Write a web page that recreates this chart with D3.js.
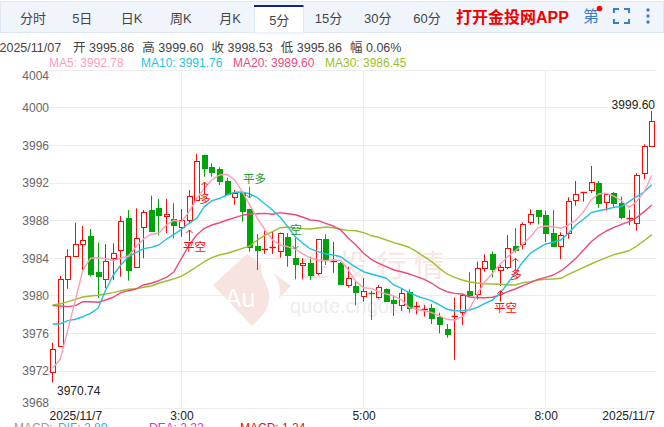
<!DOCTYPE html>
<html><head><meta charset="utf-8">
<script src="https://cdn.jsdelivr.net/npm/d3@7/dist/d3.min.js"></script>
<style>
html,body{margin:0;padding:0;background:#fff;overflow:hidden}
svg{display:block}
text{font-family:"Liberation Sans","Noto Sans CJK SC",sans-serif}
</style></head><body><svg id="c" width="664" height="427"></svg>
<script>
const tabs=["分时","5日","日K","周K","月K","5分","15分","30分","60分"];
const activeTab="5分";
const headerDate="2025/11/07";
const headerItems=["开 3995.86","高 3999.60","收 3998.53","低 3995.86","幅 0.06%"];
const maLabels=["MA5: 3992.78","MA10: 3991.76","MA20: 3989.60","MA30: 3986.45"];
const macdLabels=["MACD:","DIF: 2.89","DEA: 2.22","MACD: 1.24"];
const yTicks=[3968,3972,3976,3980,3984,3988,3992,3996,4000,4004];
const xTickLabels={0:"2025/11/7",17:"3:00",41:"5:00",65:"8:00",79:"2025/11/7"};
const opens=[3971.81,3974.53,3981.7,3984.2,3985.43,3986.3,3982.5,3981.77,3983.9,3984.85,3988.2,3982.95,3987.23,3989.07,3989.25,3988.4,3988.09,3987.23,3988.0,3990.1,3994.93,3993.65,3993.44,3992.16,3990.38,3990.85,3989.18,3985.24,3984.9,3985.0,3984.64,3986.17,3983.97,3983.19,3983.4,3982.34,3985.96,3983.65,3983.4,3981.06,3981.0,3979.85,3980.28,3979.85,3980.64,3979.5,3978.97,3980.38,3978.78,3978.51,3978.65,3977.66,3976.41,3977.72,3978.2,3980.46,3980.06,3982.83,3984.36,3982.66,3983.09,3985.24,3985.38,3987.87,3989.07,3988.51,3986.6,3985.28,3986.6,3990.1,3990.91,3991.17,3991.91,3989.85,3990.85,3989.79,3988.19,3987.77,3992.98,3995.86];
const highs=[3974.96,3982.05,3984.9,3987.72,3987.37,3987.05,3985.6,3985.43,3985.53,3988.44,3989.07,3989.25,3989.07,3990.6,3990.24,3990.27,3989.79,3989.18,3991.2,3995.03,3994.96,3994.04,3993.62,3992.51,3991.2,3991.05,3989.2,3986.52,3986.87,3986.77,3986.66,3986.6,3985.17,3983.94,3984.1,3985.96,3986.49,3985.67,3983.55,3983.04,3981.63,3981.81,3980.49,3981.1,3980.74,3979.93,3980.74,3980.64,3979.32,3978.97,3979.07,3978.15,3976.95,3979.74,3980.14,3982.45,3983.57,3984.36,3984.68,3983.22,3986.41,3987.13,3987.77,3989.15,3989.07,3989.0,3989.07,3986.7,3990.43,3992.16,3990.99,3993.76,3992.16,3990.85,3990.99,3990.49,3989.07,3992.98,3996.06,3999.60];
const lows=[3970.74,3974.53,3980.7,3984.1,3982.4,3982.0,3979.7,3980.75,3981.63,3981.98,3981.55,3982.95,3983.94,3986.84,3986.38,3986.6,3986.06,3986.23,3987.6,3990.1,3992.62,3992.62,3991.73,3990.81,3989.64,3987.83,3984.64,3982.69,3984.4,3984.4,3984.0,3983.04,3981.7,3981.7,3981.63,3982.13,3983.22,3982.4,3981.2,3980.81,3978.93,3979.32,3977.37,3979.64,3979.32,3977.8,3978.36,3978.15,3977.98,3977.73,3976.95,3975.96,3975.49,3973.12,3976.84,3979.85,3979.57,3982.51,3981.9,3980.99,3982.77,3984.53,3984.93,3987.51,3987.55,3985.67,3985.17,3983.83,3986.02,3989.53,3989.96,3990.88,3989.32,3989.0,3989.36,3988.09,3987.45,3986.87,3992.37,3995.86];
const closes=[3974.26,3981.7,3984.18,3985.43,3985.85,3982.3,3982.05,3983.65,3984.47,3987.9,3982.7,3986.06,3988.83,3986.84,3988.47,3988.62,3987.45,3988.0,3990.56,3994.26,3993.54,3993.15,3992.19,3990.81,3990.85,3988.9,3985.17,3984.85,3984.96,3985.1,3986.6,3984.29,3983.33,3983.4,3982.08,3985.96,3983.76,3983.7,3981.2,3981.81,3980.35,3980.43,3980.25,3980.92,3979.32,3979.21,3980.2,3978.72,3978.86,3978.54,3977.62,3976.95,3975.88,3977.8,3980.0,3980.0,3982.87,3983.62,3982.8,3982.98,3985.06,3984.82,3987.55,3988.68,3988.47,3986.55,3985.24,3986.45,3990.0,3990.74,3990.99,3992.02,3989.74,3990.74,3989.82,3988.26,3988.22,3992.83,3995.85,3998.53];
const ma5=[3972.23,3973.19,3976.3,3979.5,3982.7,3983.94,3984.0,3983.9,3983.7,3983.94,3984.18,3985.17,3986.0,3986.5,3986.6,3987.48,3987.98,3987.83,3988.9,3990.3,3991.38,3992.27,3992.8,3992.87,3992.27,3991.02,3989.6,3988.19,3986.95,3985.88,3985.35,3985.17,3984.9,3984.4,3983.94,3983.76,3983.68,3983.79,3983.68,3982.69,3981.45,3980.81,3980.74,3980.38,3980.14,3979.93,3979.5,3978.72,3978.51,3978.36,3978.15,3977.8,3977.45,3977.37,3977.72,3978.62,3980.14,3981.45,3982.34,3983.33,3984.1,3984.74,3985.46,3986.23,3987.2,3987.37,3987.3,3987.13,3987.48,3988.0,3988.9,3990.14,3990.78,3990.85,3990.56,3990.06,3989.36,3989.96,3991.02,3992.78];
const ma10=[3976.95,3976.95,3977.3,3977.45,3977.72,3978.08,3978.62,3980.56,3982.16,3983.22,3984.1,3984.53,3984.96,3985.1,3985.35,3985.96,3986.49,3987.02,3987.66,3988.19,3989.43,3990.06,3990.32,3990.67,3990.96,3990.99,3990.78,3990.38,3989.71,3989.07,3988.3,3987.3,3986.23,3985.53,3984.93,3984.64,3984.4,3984.29,3984.1,3983.5,3982.98,3982.51,3982.27,3982.05,3981.81,3981.1,3980.74,3980.28,3979.93,3979.68,3979.4,3978.97,3978.51,3978.36,3978.36,3978.44,3978.72,3979.15,3979.5,3980.21,3981.28,3982.41,3983.57,3984.47,3985.0,3985.46,3985.64,3985.88,3986.6,3987.48,3988.09,3988.79,3989.0,3989.15,3989.36,3989.43,3989.96,3990.49,3991.02,3991.76];
const ma20=[3978.9,3978.86,3978.79,3978.9,3979.32,3979.32,3979.26,3979.5,3979.79,3980.28,3980.49,3980.67,3981.1,3981.28,3981.55,3981.9,3982.5,3983.94,3985.35,3986.41,3987.13,3987.48,3987.72,3988.01,3988.26,3988.51,3988.65,3988.68,3988.72,3988.62,3988.79,3988.68,3988.57,3988.3,3988.01,3987.94,3987.66,3987.37,3986.95,3986.06,3985.35,3984.47,3983.83,3983.4,3983.04,3982.69,3982.51,3982.27,3981.98,3981.7,3981.28,3980.74,3980.38,3980.21,3980.14,3979.82,3979.74,3979.74,3979.79,3980.03,3980.38,3980.67,3981.02,3981.34,3981.7,3981.91,3982.16,3982.59,3983.22,3983.94,3984.82,3985.7,3986.34,3986.84,3987.23,3987.55,3987.83,3988.26,3988.9,3989.60];
const ma30=[3978.97,3979.07,3979.32,3979.57,3979.82,3979.93,3980.0,3980.14,3980.28,3980.49,3980.64,3980.7,3980.85,3980.99,3981.28,3981.52,3981.74,3982.05,3982.51,3983.04,3983.57,3984.0,3984.29,3984.47,3984.71,3985.0,3985.24,3985.88,3986.41,3986.77,3987.19,3987.27,3987.13,3987.09,3987.05,3987.16,3987.27,3987.18,3987.02,3986.91,3986.87,3986.66,3986.34,3986.17,3985.88,3985.6,3985.38,3985.11,3984.64,3984.11,3983.57,3982.87,3982.27,3981.91,3981.63,3981.41,3981.31,3981.23,3981.2,3981.17,3981.1,3981.1,3981.34,3981.45,3981.63,3981.7,3981.74,3981.81,3982.23,3982.59,3982.98,3983.33,3983.68,3984.0,3984.32,3984.53,3984.74,3985.24,3985.81,3986.45];
const signalIdx=[18,20,26,32,59,61];
const signalText=["平空","多","平多","空","平空","多"];
const signalDir=["up","up","down","down","up","up"];
const signalPrice=[3986.95,3992.05,3990.35,3984.93,3980.49,3983.94];
const maxLabel="3999.60", minLabel="3970.74";
const wmTitle="金投行情", wmUrl="quote.cngold.org", wmLogo="Au";

const RED="#fb0a0a",GREEN="#00a30a",MACOL=["#ff9db9","#1fc3e0","#f0487c","#9cbf2b"];
const svg=d3.select("#c");
const n=opens.length;
const x=d3.scaleBand().domain(d3.range(n)).range([48.8,655.6]);
const cx=i=>Math.round(x(i)+x.bandwidth()/2-0.5)+0.5;
const y=d3.scaleLinear().domain([3968,4004]).range([408.1,69.7]);

// tab bar
svg.append("rect").attr("x",0.5).attr("y",1.5).attr("width",663).attr("height",31).attr("fill","#f0f5fc").attr("stroke","#dfe7f4");
const tabX=d3.scalePoint().domain(tabs).range([33,427]);
svg.append("rect").attr("x",254.5).attr("y",6).attr("width",49).attr("height",27).attr("fill","#fff").attr("stroke","#dfe7f4");
svg.append("rect").attr("x",254).attr("y",5).attr("width",49.5).attr("height",2).attr("fill","#12287c");
svg.selectAll(".tab").data(tabs).join("text").attr("class","tab").attr("x",d=>tabX(d)).attr("y",d=>d===activeTab?20:18.5)
 .attr("dy","0.36em").attr("text-anchor","middle").attr("font-size",13).attr("fill","#444").text(d=>d);
svg.append("text").attr("x",456).attr("y",17.5).attr("dy","0.36em").attr("font-size",16).attr("font-weight","bold").attr("fill","#f40000").text("打开金投网APP");
svg.append("text").attr("x",583).attr("y",16.5).attr("dy","0.36em").attr("font-size",16).attr("fill","#3d7cc9").text("第");
svg.append("circle").attr("cx",599.5).attr("cy",8.5).attr("r",2.8).attr("fill","#f00");
svg.append("path").attr("fill","none").attr("stroke","#3d7cc9").attr("stroke-width",2)
 .attr("d","M614,13V9H619M624,9H629V13M629,19V23H624M619,23H614V19");
svg.selectAll(".dot").data([10,16,22]).join("circle").attr("class","dot").attr("cx",648).attr("cy",d=>d).attr("r",1.7).attr("fill","#3d7cc9");

// header rows
const hCol="#444";
svg.append("text").attr("x",-0.5).attr("y",47.5).attr("dy","0.36em").attr("font-size",12.5).attr("fill",hCol).text(headerDate);
const hX=d3.scalePoint().domain(headerItems).range([73,350]);
svg.selectAll(".hi").data(headerItems).join("text").attr("class","hi").attr("x",d=>hX(d)).attr("y",47.5).attr("dy","0.36em").attr("font-size",12.5).attr("fill",hCol).text(d=>d);
const mX=d3.scalePoint().domain(maLabels).range([49,325]);
svg.selectAll(".ml").data(maLabels).join("text").attr("class","ml").attr("x",d=>mX(d)).attr("y",62.5).attr("dy","0.36em").attr("font-size",12).attr("fill",(d,i)=>MACOL[i]).text(d=>d);

// grid
const grid=svg.append("g");
grid.selectAll(".gh").data(yTicks).join("line").attr("class","gh").attr("x1",49).attr("x2",656)
 .attr("y1",d=>Math.round(y(d))+0.5).attr("y2",d=>Math.round(y(d))+0.5).attr("stroke","#ededed");
const vIdx=[17,41,65];
grid.selectAll(".gv").data(vIdx).join("line").attr("class","gv").attr("x1",cx).attr("x2",cx).attr("y1",70).attr("y2",408).attr("stroke","#ededed");

// watermark
const wm=svg.append("g");
wm.append("path").attr("fill","#f7e3df").attr("d","M247,254L291,286L252,326L213,285Z");
wm.append("path").attr("fill","#fff").attr("d","M262,263C276,272 286,288 276,305C271,312 264,318 258,322C268,310 273,298 266,284C263,277 259,270 262,263Z");
wm.append("text").attr("x",240).attr("y",307).attr("text-anchor","middle").attr("font-size",25).attr("fill","#fff").text(wmLogo);
wm.append("text").attr("x",300).attr("y",265).attr("dy","0.36em").attr("font-size",30).attr("letter-spacing",8).attr("fill","#f8e6e2").text(wmTitle);
wm.append("text").attr("x",290).attr("y",306).attr("dy","0.36em").attr("font-size",20).attr("fill","#ededed").text(wmUrl);

// axes
const yAxis=svg.append("g").attr("transform","translate(49,0)").call(d3.axisLeft(y).tickValues(yTicks).tickFormat(d3.format("d")).tickSize(0).tickPadding(0));
yAxis.select(".domain").remove();
yAxis.selectAll("text").attr("font-size",12).attr("fill","#666").attr("font-family",null)
 .attr("dy",d=>d===4004?"0.8em":d===3968?"-0.1em":"0.36em");
const xAxis=svg.append("g").attr("transform","translate(0,408)").call(d3.axisBottom(x).tickValues(Object.keys(xTickLabels).map(Number)).tickFormat(d=>xTickLabels[d]).tickSize(0).tickPadding(3));
xAxis.select(".domain").remove();
xAxis.selectAll("text").attr("font-size",12).attr("fill","#222").attr("font-family",null)
 .attr("text-anchor",d=>d===0?"start":d===79?"end":"middle")
 .attr("dx",d=>d===0?-3:d===79?3:0.5);

// candles
const g=svg.append("g");
d3.range(n).forEach(i=>{
 const up=closes[i]>=opens[i],col=up?RED:GREEN,c=cx(i);
 g.append("line").attr("x1",c).attr("x2",c).attr("y1",y(highs[i])).attr("y2",y(lows[i])).attr("stroke",col).attr("stroke-width",1);
 const t=y(Math.max(opens[i],closes[i])),b=y(Math.min(opens[i],closes[i]));
 const tr=Math.round(t)+0.5,h=Math.max(0.01,Math.round(b-t));
 if(h<1.5){
  g.append("line").attr("x1",c-3).attr("x2",c+3.5).attr("y1",tr).attr("y2",tr).attr("stroke",col).attr("stroke-width",1.4);
 } else {
  g.append("rect").attr("x",c-2).attr("width",5).attr("y",tr).attr("height",h).attr("fill",up?"#fff":col).attr("stroke",col).attr("stroke-width",1);
 }
});

// MA lines
const line=d3.line().x((d,i)=>x(i)+x.bandwidth()/2).y(d=>y(d));
[ma30,ma20,ma10,ma5].forEach((a,k)=>{
 svg.append("path").datum(a).attr("fill","none").attr("stroke",MACOL[3-k]).attr("stroke-width",1.4).attr("stroke-linejoin","round").attr("d",line);
});

// extremes
svg.append("text").attr("x",655).attr("y",104.5).attr("dy","0.36em").attr("text-anchor","end").attr("font-size",12).attr("fill","#222").text(maxLabel);
svg.append("text").attr("x",57).attr("y",390.5).attr("dy","0.36em").attr("font-size",12).attr("fill","#222").text(minLabel);

// signals
signalIdx.forEach((idx,k)=>{
 const c=cx(idx),up=signalDir[k]==="up",col=up?RED:"#1f9a3a";
 const tip=y(signalPrice[k]), dir=up?1:-1, tail=tip+dir*11;
 svg.append("path").attr("fill","none").attr("stroke",col).attr("stroke-width",1)
  .attr("d",`M${c},${tail}L${c},${tip}M${c-3},${tip+dir*3}L${c},${tip}L${c+3},${tip+dir*3}`);
 const t=signalText[k];
 svg.append("text").attr("x",c+(t.length===1?0.5:5)).attr("y",tip+(up?17:-19.5)).attr("dy","0.36em")
  .attr("text-anchor","middle").attr("font-size",11.5).attr("fill",col).text(t);
});

// clipped MACD row
const macdCols=["#999","#19b8e8","#e22bd0","#e01010"];
const macdX=d3.scaleOrdinal().domain(macdLabels).range([14,58,149,240]);
svg.selectAll(".mc").data(macdLabels).join("text").attr("class","mc").attr("x",d=>macdX(d)).attr("y",432).attr("font-size",12).attr("fill",(d,i)=>macdCols[i]).text(d=>d);
</script></body></html>
